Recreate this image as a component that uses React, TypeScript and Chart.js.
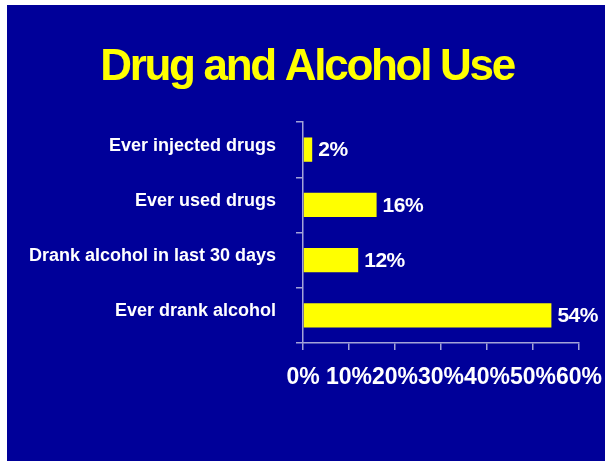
import React, { useEffect, useRef } from 'react';
import { Chart, registerables } from 'chart.js';

Chart.register(...registerables);

const TITLE = 'Drug and Alcohol Use';
const categories = [
  'Ever injected drugs',
  'Ever used drugs',
  'Drank alcohol in last 30 days',
  'Ever drank alcohol',
];
const values = [2, 16, 12, 54];
const xMin = 0;
const xMax = 60;
const xStep = 10;

const FONT = '"Liberation Sans", Arial, Helvetica, sans-serif';
const AXIS_COLOR = '#a3a3d8';
const BG = '#000099';

export default function App() {
  const ref = useRef<HTMLCanvasElement>(null);

  useEffect(() => {
    const canvas = ref.current;
    if (!canvas) return;

    const slidePlugin = {
      id: 'slideText',
      beforeDraw(chart: any) {
        chart.ctx.letterSpacing = '0px';
      },
      afterDatasetsDraw(chart: any) {
        const ctx = chart.ctx;
        const meta = chart.getDatasetMeta(0);
        ctx.save();
        ctx.letterSpacing = '-0.5px';
        ctx.font = `bold 21px ${FONT}`;
        ctx.fillStyle = '#ffffff';
        ctx.textAlign = 'left';
        ctx.textBaseline = 'middle';
        meta.data.forEach((bar: any, i: number) => {
          ctx.fillText(`${values[i]}%`, bar.x + 6, bar.y + 1);
        });
        ctx.restore();
        ctx.letterSpacing = '-2px';
      },
      afterDraw(chart: any) {
        const ctx = chart.ctx;
        ctx.save();
        ctx.letterSpacing = '-2.3px';
        ctx.font = `bold 44px ${FONT}`;
        ctx.fillStyle = '#ffff00';
        ctx.textAlign = 'center';
        ctx.textBaseline = 'alphabetic';
        ctx.fillText(TITLE, chart.width / 2 + 1, 75);
        ctx.restore();
        ctx.letterSpacing = '0px';
      },
    };

    const chart = new Chart(canvas, {
      type: 'bar',
      data: {
        labels: categories,
        datasets: [
          {
            data: values,
            backgroundColor: '#ffff00',
            borderWidth: 0,
            barPercentage: 0.44,
            categoryPercentage: 1,
          },
        ],
      },
      options: {
        indexAxis: 'y',
        animation: false,
        responsive: true,
        maintainAspectRatio: false,
        layout: { padding: { top: 117, right: 26, bottom: 0, left: 0 } },
        plugins: {
          legend: { display: false },
          title: { display: false },
          tooltip: { enabled: false },
        },
        scales: {
          x: {
            type: 'linear',
            position: 'bottom',
            min: xMin,
            max: xMax,
            z: 1,
            ticks: {
              stepSize: xStep,
              callback: (v: any) => `${v}%`,
              color: '#ffffff',
              font: { family: FONT, size: 23, weight: 'bold' },
              padding: 14,
              maxRotation: 0,
              autoSkip: false,
            },
            grid: {
              drawOnChartArea: false,
              drawTicks: true,
              tickLength: 7,
              color: AXIS_COLOR,
              lineWidth: 1.5,
            },
            border: { display: true, color: AXIS_COLOR, width: 1.5 },
            afterFit: (scale: any) => {
              scale.height = 118;
              scale.paddingLeft = 0;
              scale.paddingRight = 0;
            },
          },
          y: {
            type: 'category',
            ticks: {
              color: '#ffffff',
              font: { family: FONT, size: 18, weight: 'bold' },
              padding: 20,
              labelOffset: -4,
            },
            grid: {
              drawOnChartArea: false,
              drawTicks: true,
              tickLength: 7,
              offset: true,
              color: AXIS_COLOR,
              lineWidth: 1.5,
            },
            border: { display: true, color: AXIS_COLOR, width: 1.5 },
            afterFit: (scale: any) => {
              scale.width = 296;
              scale.paddingTop = 0;
              scale.paddingBottom = 0;
            },
          },
        },
      } as any,
      plugins: [slidePlugin],
    });

    return () => chart.destroy();
  }, []);

  return (
    <div
      style={{
        position: 'fixed',
        left: 0,
        top: 0,
        width: 605,
        height: 461,
        background: '#ffffff',
      }}
    >
      <div
        style={{
          position: 'absolute',
          left: 7,
          top: 5,
          width: 598,
          height: 456,
          background: BG,
        }}
      >
        <canvas ref={ref} />
      </div>
    </div>
  );
}
